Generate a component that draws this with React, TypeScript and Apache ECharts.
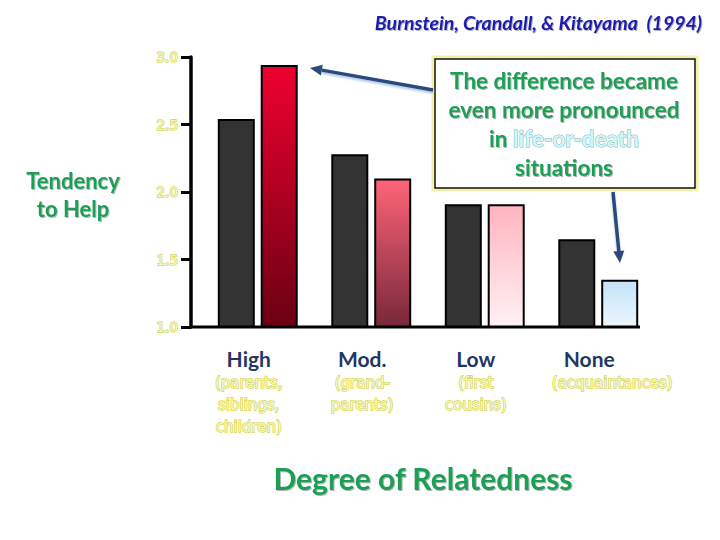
import React, { useEffect, useRef } from 'react';
import * as echarts from 'echarts';

const categories = ['High', 'Mod.', 'Low', 'None'];
const subLabels = [
  ['(parents,', 'siblings,', 'children)'],
  ['(grand-', 'parents)'],
  ['(first', 'cousins)'],
  ['(acquaintances)'],
];
const everydayHelp = [2.54, 2.28, 1.91, 1.65];
const lifeOrDeathHelp = [2.94, 2.1, 1.91, 1.35];
const lifeGradients = [
  ['#ee0030', '#6a0012'],
  ['#ff6478', '#77283a'],
  ['#ffb4c0', '#fff1f4'],
  ['#c4e2f8', '#edf6fd'],
];
const yMin = 1;
const yMax = 3;
const yInterval = 0.5;

const GREEN = '#1f9e55';
const YELLOW = '#f6f6c8';
const YELLOW_EDGE = '#d6d64a';
const SUBFONT = 'DejaVu Sans';

function arrow(x1: number, y1: number, x2: number, y2: number) {
  const dx = x2 - x1;
  const dy = y2 - y1;
  const len = Math.sqrt(dx * dx + dy * dy);
  const ux = dx / len;
  const uy = dy / len;
  const hl = 12;
  const hw = 5.5;
  const bx = x2 - ux * hl;
  const by = y2 - uy * hl;
  const nx = -uy * hw;
  const ny = ux * hw;
  const color = '#2b4a7c';
  return [
    {
      type: 'line',
      shape: { x1, y1, x2: bx, y2: by },
      style: { stroke: color, lineWidth: 3.5, shadowColor: 'rgba(120,160,200,0.6)', shadowBlur: 2, shadowOffsetY: 2 },
      z: 20,
    },
    {
      type: 'polygon',
      shape: { points: [[x2, y2], [bx + nx, by + ny], [bx - nx, by - ny]] },
      style: { fill: color },
      z: 20,
    },
  ];
}

export default function App() {
  const ref = useRef<HTMLDivElement>(null);
  useEffect(() => {
    document.body.style.margin = '0';
    const chart = echarts.init(ref.current!, null, { renderer: 'svg' });
    const shadow = {
      textShadowColor: 'rgba(0,0,0,0.3)',
      textShadowOffsetX: 1,
      textShadowOffsetY: 1,
      textShadowBlur: 1,
    };
    const outline = {
      color: YELLOW,
      textBorderColor: YELLOW_EDGE,
      textBorderWidth: 1.4,
    };
    const subStyle = {
      fontFamily: SUBFONT,
      fontSize: 15,
      lineHeight: 22,
      align: 'center',
      ...outline,
    };
    const option: any = {
      animation: false,
      backgroundColor: '#ffffff',
      title: {
        text: 'Burnstein, Crandall, & Kitayama  (1994)',
        right: 13,
        top: 7,
        textStyle: {
          fontFamily: 'Lato',
          fontStyle: 'italic',
          fontWeight: 'bold',
          fontSize: 19.5,
          color: '#1c1caa',
          ...shadow,
        },
      },
      grid: { left: 201, right: 65, top: 57, bottom: 213 },
      xAxis: {
        type: 'category',
        data: categories,
        axisLine: { show: false },
        axisTick: { show: false },
        axisLabel: {
          interval: 0,
          margin: 17,
          padding: [0, 18, 0, 0],
          formatter: (value: string, index: number) => {
            const subs = subLabels[index] || [];
            const style = index === 3 ? 'subShift' : 'sub';
            return [`{main|${value}}`, ...subs.map((s) => `{${style}|${s}}`)].join('\n');
          },
          rich: {
            main: {
              fontFamily: 'Lato',
              fontWeight: 'bold',
              fontSize: 21,
              color: '#1f3864',
              lineHeight: 28,
              align: 'center',
            },
            sub: subStyle,
            subShift: { ...subStyle, padding: [0, 0, 0, 46] },
          },
        },
        name: 'Degree of Relatedness',
        nameLocation: 'middle',
        nameGap: 136,
        nameTextStyle: {
          fontFamily: 'Lato',
          fontWeight: 'bold',
          fontSize: 30,
          color: GREEN,
          padding: [0, 10, 0, 0],
          ...shadow,
        },
      },
      yAxis: {
        type: 'value',
        min: yMin,
        max: yMax,
        interval: yInterval,
        offset: 10,
        splitLine: { show: false },
        axisLine: { show: true, lineStyle: { color: '#000', width: 3.5 } },
        axisTick: { show: true, length: 10, lineStyle: { color: '#000', width: 3 } },
        axisLabel: {
          margin: 13,
          formatter: (v: number) => v.toFixed(1),
          fontFamily: SUBFONT,
          fontSize: 13.5,
          ...outline,
        },
      },
      series: [
        {
          name: 'Everyday help',
          type: 'bar',
          data: everydayHelp,
          barWidth: 37,
          barGap: '16%',
          itemStyle: { color: '#333333', borderColor: '#000', borderWidth: 2 },
        },
        {
          name: 'Life-or-death help',
          type: 'bar',
          data: lifeOrDeathHelp.map((v, i) => ({
            value: v,
            itemStyle: {
              color: new echarts.graphic.LinearGradient(0, 0, 0, 1, [
                { offset: 0, color: lifeGradients[i][0] },
                { offset: 1, color: lifeGradients[i][1] },
              ]),
            },
          })),
          barWidth: 37,
          itemStyle: { borderColor: '#000', borderWidth: 2 },
        },
      ],
      graphic: [
        {
          type: 'line',
          shape: { x1: 190, y1: 327, x2: 640, y2: 327 },
          style: { stroke: '#000', lineWidth: 3 },
          z: 10,
        },
        {
          type: 'text',
          x: 73,
          y: 194,
          style: {
            text: 'Tendency\nto Help',
            align: 'center',
            verticalAlign: 'middle',
            fontFamily: 'Lato',
            fontWeight: 'bold',
            fontSize: 22,
            lineHeight: 28,
            fill: GREEN,
            ...shadow,
          },
        },
        {
          type: 'rect',
          shape: { x: 433, y: 57, width: 264, height: 133 },
          style: { fill: 'none', stroke: '#f2f2a6', lineWidth: 3 },
          z: 15,
        },
        {
          type: 'rect',
          shape: { x: 435, y: 59, width: 260, height: 129 },
          style: { fill: '#ffffff', stroke: '#111', lineWidth: 1.5 },
          z: 15,
        },
        {
          type: 'text',
          x: 564,
          y: 124,
          z: 16,
          style: {
            text: '{g|The difference became}\n{g|even more pronounced}\n{g|in }{l|life-or-death}\n{g|situations}',
            align: 'center',
            verticalAlign: 'middle',
            rich: {
              g: {
                fontFamily: 'Lato',
                fontWeight: 'bold',
                fontSize: 22.5,
                lineHeight: 29,
                fill: GREEN,
                ...shadow,
              },
              l: {
                fontFamily: 'Lato',
                fontWeight: 'bold',
                fontSize: 22.5,
                lineHeight: 29,
                fill: '#d2f6f6',
                stroke: '#7ab8c0',
                lineWidth: 1,
              },
            },
          },
        },
        ...arrow(433, 90, 310, 68),
        ...arrow(613, 192, 620, 263),
      ],
    };
    chart.setOption(option);
    return () => chart.dispose();
  }, []);
  return <div ref={ref} style={{ width: 720, height: 540 }} />;
}
